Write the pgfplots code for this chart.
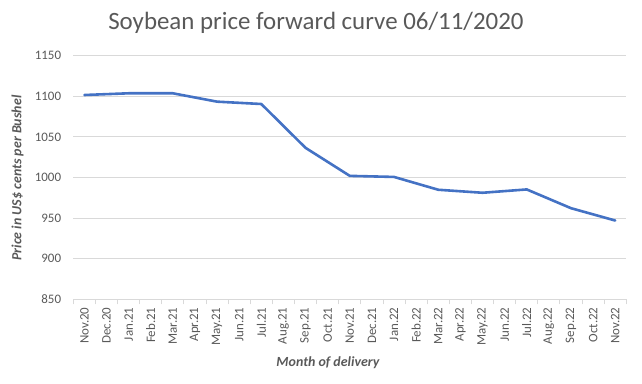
\documentclass[border=0pt]{standalone}
\usepackage{fontspec}
\setmainfont{Carlito}
\usepackage{pgfplots}
\pgfplotsset{compat=1.18}
\definecolor{linecol}{HTML}{4472C4}
\definecolor{gridcol}{HTML}{D9D9D9}
\definecolor{txtcol}{HTML}{595959}
\begin{document}
\begin{tikzpicture}
\useasboundingbox (-73.3bp,-84.7bp) rectangle (568.7bp,299.3bp);
\begin{axis}[
  scale only axis,
  width=553bp, height=243.6bp,
  xmin=-0.5, xmax=24.5,
  ymin=850, ymax=1150,
  ytick={850,900,...,1150},
  xtick={0,...,24},
  xticklabels={Nov.20,Dec.20,Jan.21,Feb.21,Mar.21,Apr.21,May.21,Jun.21,Jul.21,Aug.21,Sep.21,Oct.21,Nov.21,Dec.21,Jan.22,Feb.22,Mar.22,Apr.22,May.22,Jun.22,Jul.22,Aug.22,Sep.22,Oct.22,Nov.22},
  minor xtick={-0.5,0.5,...,24.5},
  x tick label style={rotate=90, anchor=east, font=\fontsize{13}{14}\selectfont, text=txtcol, inner sep=0pt},
  xticklabel shift=8bp,
  y tick label style={font=\fontsize{13}{14}\selectfont, text=txtcol, inner sep=0pt},
  yticklabel shift=12bp,
  /pgf/number format/assume math mode=true,
  /pgf/number format/.cd, 1000 sep={}, /pgfplots/.cd,
  axis line style={draw=none},
  ymajorgrids,
  grid style={gridcol, line width=0.9bp},
  major tick length=0pt,
  minor tick length=5bp,
  tick align=outside,
  minor x tick style={gridcol, line width=0.9bp},
  xtick pos=bottom,
  ytick pos=left,
  clip=false,
]
\draw[gridcol, line width=0.9bp] (axis cs:-0.5,850) -- (axis cs:24.5,850);
\addplot[linecol, line width=2.6bp, line join=round, line cap=round, mark=none] coordinates {
(0,1101.6) (2,1103.7) (4,1103.7) (6,1093.4) (8,1090.5) (10,1036.5) (12,1002.0) (14,1000.7) (16,984.9) (18,981.2) (20,985.3) (22,962.2) (24,947.0)
};
\end{axis}
\node[anchor=base, text=txtcol, font=\fontsize{25}{30}\selectfont, inner sep=0pt] at (242.6bp,270bp) {Soybean price forward curve 06/11/2020};
\node[text=txtcol, font=\fontsize{14}{16}\selectfont\bfseries\itshape, inner sep=0pt] at (254.7bp,-63.7bp) {Month of delivery};
\node[rotate=90, text=txtcol, font=\fontsize{14}{16}\selectfont\bfseries\itshape, inner sep=0pt] at (-55.8bp,121.3bp) {Price in US\$ cents per Bushel};
\end{tikzpicture}
\end{document}
